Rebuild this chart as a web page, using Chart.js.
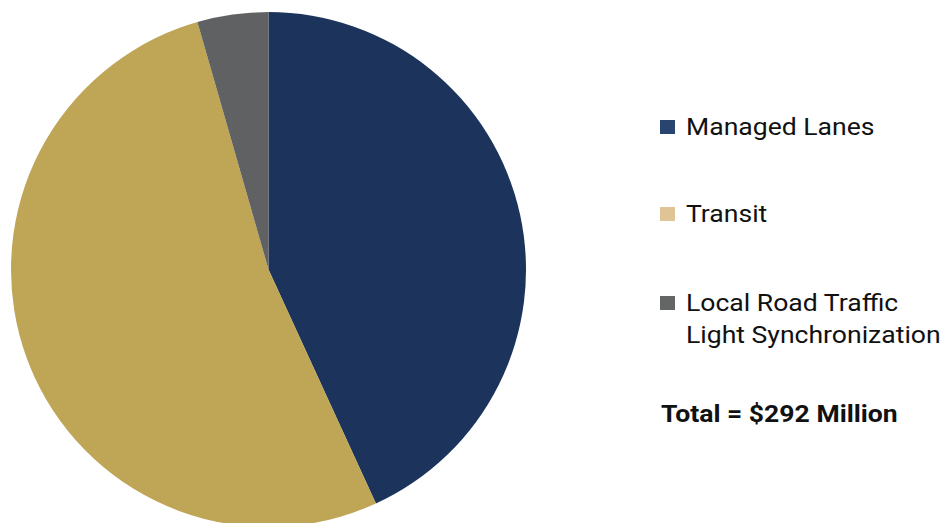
<!DOCTYPE html>
<html>
<head>
<meta charset="utf-8">
<script src="https://cdn.jsdelivr.net/npm/chart.js@4"></script>
<style>
    html, body { margin: 0; padding: 0; background: #ffffff; }
    body { width: 943px; height: 523px; overflow: hidden; position: relative; font-family: Roboto, sans-serif; color: #111111; }
    #pie-wrap { position: absolute; left: 10.5px; top: 11.5px; width: 515px; height: 515px; }
    .legend-item { position: absolute; left: 660px; font-size: 23.5px; line-height: 32px; }
    .legend-item .swatch { position: absolute; left: 0; top: 9px; width: 15px; height: 14px; }
    .legend-item .label { position: absolute; left: 26px; top: 0; white-space: nowrap; transform: scaleX(1.13); transform-origin: left top; }
    #total { position: absolute; left: 661px; top: 398px; font-size: 23.5px; font-weight: bold; white-space: nowrap; line-height: 32px; transform: scaleX(1.13); transform-origin: left top; }
</style>
</head>
<body>
<div id="pie-wrap"><canvas id="funding-chart"></canvas></div>
<div id="legend"></div>
<div id="total"></div>

<script>
// Valores do gráfico (milhões de dólares)
const categories = ['Managed Lanes', 'Transit', 'Local Road Traffic Light Synchronization'];
const legendLines = [['Managed Lanes'], ['Transit'], ['Local Road Traffic', 'Light Synchronization']];
const amounts = [126, 153, 13];
const sliceColors = ['#1c345c', '#bfa657', '#5f6163'];
const swatchColors = ['#28446f', '#dfc596', '#646565'];
const legendTops = [111, 198, 287];
const totalText = 'Total = $292 Million';

// Gráfico de pizza
const ctx = document.getElementById('funding-chart');
new Chart(ctx, {
    type: 'pie',
    data: {
        labels: categories,
        datasets: [{
            data: amounts,
            backgroundColor: sliceColors,
            borderWidth: 0
        }]
    },
    options: {
        responsive: true,
        maintainAspectRatio: false,
        animation: false,
        layout: { padding: 0 },
        plugins: {
            legend: { display: false },
            tooltip: { enabled: false }
        }
    }
});

// Legenda à direita
const legend = document.getElementById('legend');
categories.forEach(function(name, i) {
    const item = document.createElement('div');
    item.className = 'legend-item';
    item.style.top = legendTops[i] + 'px';
    item.innerHTML = `<span class="swatch" style="background:${swatchColors[i]}"></span>` +
        `<span class="label">${legendLines[i].join('<br>')}</span>`;
    legend.appendChild(item);
});
document.getElementById('total').textContent = totalText;
</script>
</body>
</html>
